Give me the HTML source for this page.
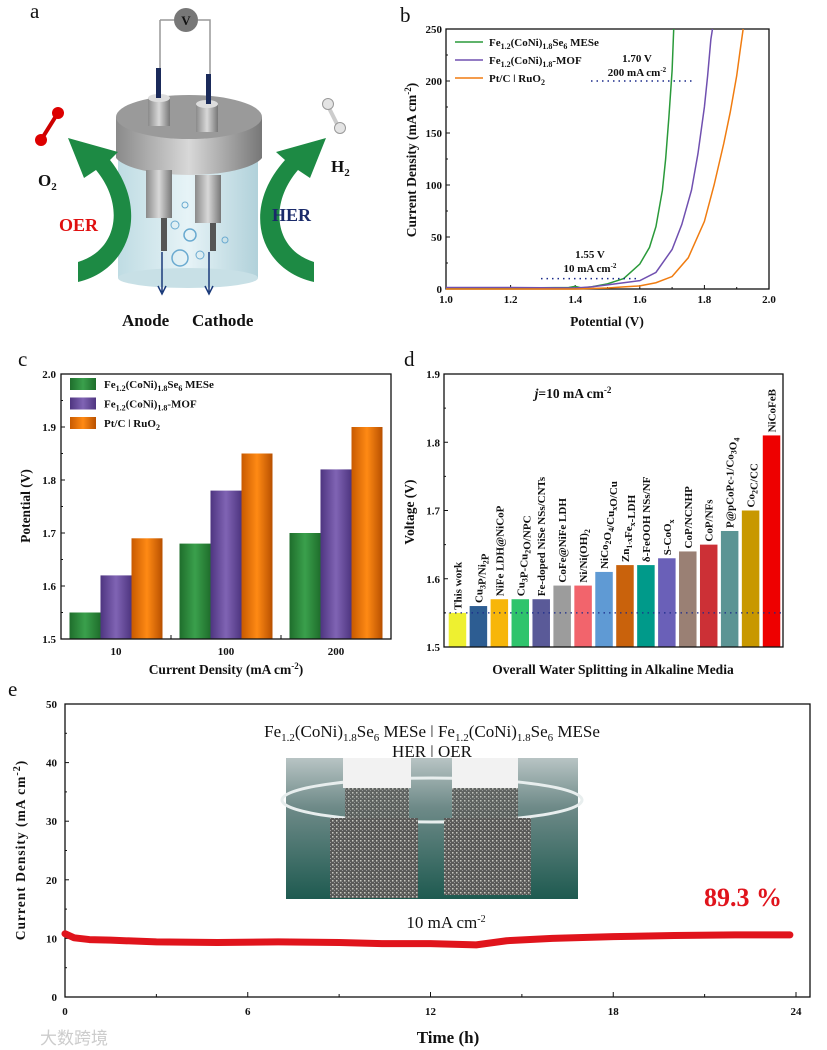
<!DOCTYPE html>
<html><head><meta charset="utf-8"><style>
html,body{margin:0;padding:0;background:#fff;}
svg{display:block;font-family:"Liberation Serif",serif;}
.t{font-weight:bold;font-size:11px;fill:#111;}
.lab{font-weight:bold;font-size:13.5px;fill:#111;}
.pl{font-size:21px;fill:#111;}
</style></head><body>
<svg id="fig" width="827" height="1050" viewBox="0 0 827 1050" xmlns="http://www.w3.org/2000/svg">
<defs>
<linearGradient id="gG" x1="0" x2="1"><stop offset="0" stop-color="#1f6e2c"/><stop offset=".5" stop-color="#3aa04c"/><stop offset="1" stop-color="#1f6e2c"/></linearGradient>
<linearGradient id="gP" x1="0" x2="1"><stop offset="0" stop-color="#4e3580"/><stop offset=".5" stop-color="#8064b4"/><stop offset="1" stop-color="#4e3580"/></linearGradient>
<linearGradient id="gO" x1="0" x2="1"><stop offset="0" stop-color="#c85a00"/><stop offset=".5" stop-color="#ff8a14"/><stop offset="1" stop-color="#b85000"/></linearGradient>
<linearGradient id="lid" x1="0" x2="1"><stop offset="0" stop-color="#8a8a8a"/><stop offset=".5" stop-color="#d8d8d8"/><stop offset="1" stop-color="#777"/></linearGradient>
<linearGradient id="water" x1="0" x2="1"><stop offset="0" stop-color="#b8d8e0"/><stop offset=".5" stop-color="#e4f2f6"/><stop offset="1" stop-color="#a8ccd6"/></linearGradient>
<linearGradient id="photo" x1="0" y1="0" x2="0" y2="1"><stop offset="0" stop-color="#b8c4c4"/><stop offset=".35" stop-color="#6e8a88"/><stop offset="1" stop-color="#1e5a50"/></linearGradient>
<pattern id="foam" width="4" height="4" patternUnits="userSpaceOnUse"><rect width="4" height="4" fill="#5a5a58"/><rect width="1.5" height="1.5" fill="#c8c8c0"/><rect x="2" y="2" width="1" height="1" fill="#999"/></pattern>
</defs>

<!-- Panel a -->
<g>
<text class="pl" x="30" y="18">a</text>
<path d="M160 20 H174 M198 20 H210 V80 M160 20 V70" stroke="#999" stroke-width="1.5" fill="none"/>
<circle cx="186" cy="20" r="12" fill="#777"/>
<text x="186" y="25" text-anchor="middle" font-weight="bold" font-size="13" fill="#111">V</text>
<rect x="118" y="150" width="140" height="128" fill="url(#water)" opacity=".9"/>
<ellipse cx="188" cy="278" rx="70" ry="10" fill="#c8e0e6"/>
<path d="M116 117 V158 A75 22 0 0 0 262 158 V117 Z" fill="url(#lid)"/>
<ellipse cx="189" cy="117" rx="73" ry="22" fill="#9a9a9a"/>
<rect x="148" y="98" width="22" height="28" fill="url(#lid)"/><ellipse cx="159" cy="98" rx="11" ry="4" fill="#ddd"/>
<rect x="196" y="104" width="22" height="28" fill="url(#lid)"/><ellipse cx="207" cy="104" rx="11" ry="4" fill="#ddd"/>
<rect x="156" y="68" width="5" height="30" fill="#1a2a5a"/><rect x="206" y="74" width="5" height="30" fill="#1a2a5a"/>
<rect x="146" y="170" width="26" height="48" fill="url(#lid)"/><rect x="195" y="175" width="26" height="48" fill="url(#lid)"/>
<rect x="161" y="218" width="6" height="33" fill="#555"/><rect x="210" y="223" width="6" height="28" fill="#555"/>
<circle cx="180" cy="258" r="8" fill="none" stroke="#6aaad0" stroke-width="1.5"/>
<circle cx="190" cy="235" r="6" fill="none" stroke="#6aaad0" stroke-width="1.5"/>
<circle cx="175" cy="225" r="4" fill="none" stroke="#6aaad0"/><circle cx="200" cy="255" r="4" fill="none" stroke="#6aaad0"/>
<circle cx="185" cy="205" r="3" fill="none" stroke="#6aaad0"/><circle cx="225" cy="240" r="3" fill="none" stroke="#6aaad0"/>
<path d="M162 252 V292 M158 286 L162 294 L166 286 M209 252 V292 M205 286 L209 294 L213 286" stroke="#1a3a7a" stroke-width="1.5" fill="none"/>
<path d="M78 282 C130 270 150 210 110 160 L118 152 L68 138 L84 178 L96 170 C125 205 118 250 78 262 Z" fill="#1d8a44"/>
<path d="M314 282 C260 270 240 210 285 160 L276 152 L326 138 L310 178 L298 170 C268 205 275 250 314 262 Z" fill="#1d8a44"/>
<line x1="41" y1="140" x2="56" y2="116" stroke="#c00" stroke-width="4"/><circle cx="41" cy="140" r="6" fill="#d00"/><circle cx="58" cy="113" r="6" fill="#d00"/>
<line x1="328" y1="106" x2="338" y2="126" stroke="#ccc" stroke-width="4"/><circle cx="328" cy="104" r="5.5" fill="#e4e4e4" stroke="#999"/><circle cx="340" cy="128" r="5.5" fill="#e4e4e4" stroke="#999"/>
<text x="38" y="186" font-weight="bold" font-size="17" fill="#111">O<tspan font-size="11" dy="4">2</tspan></text>
<text x="331" y="172" font-weight="bold" font-size="17" fill="#111">H<tspan font-size="11" dy="4">2</tspan></text>
<text x="59" y="231" font-weight="bold" font-size="18" fill="#e01010">OER</text>
<text x="272" y="221" font-weight="bold" font-size="18" fill="#1a2a6a">HER</text>
<text x="122" y="326" font-weight="bold" font-size="17" fill="#111">Anode</text>
<text x="192" y="326" font-weight="bold" font-size="17" fill="#111">Cathode</text>
</g>

<g id="pb"></g>
<g id="pc"></g>
<g id="pd"></g>
<g id="pe"></g>
</svg>
<script>
// ---- Panel b data ----
const bGreenV=[1.0,1.2,1.38,1.40,1.42,1.45,1.5,1.55,1.6,1.63,1.65,1.67,1.68,1.69,1.70,1.705];
const bGreenJ=[0.5,1,1.5,2.5,1,2,5,10,24,40,60,95,125,165,210,250];
const bPurpleV=[1.0,1.2,1.4,1.45,1.5,1.55,1.6,1.65,1.7,1.73,1.76,1.78,1.8,1.81,1.82,1.825];
const bPurpleJ=[1.5,1.5,1,2,4,6,8,16,38,62,95,130,175,205,240,250];
const bOrangeV=[1.0,1.4,1.5,1.55,1.6,1.65,1.7,1.75,1.8,1.83,1.86,1.88,1.9,1.91,1.92];
const bOrangeJ=[0,0,1,2,3,6,12,30,65,100,140,170,205,228,250];
const bXTicks=[1.0,1.2,1.4,1.6,1.8,2.0];
const bYTicks=[0,50,100,150,200,250];
// ---- Panel c data ----
const cCats=["10","100","200"];
const cMESe=[1.55,1.68,1.70];
const cMOF=[1.62,1.78,1.82];
const cPt=[1.69,1.85,1.90];
const cYTicks=[1.5,1.6,1.7,1.8,1.9,2.0];
// ---- Panel d data ----
const dNames=["This work","Cu<sub>3</sub>P/Ni<sub>2</sub>P","NiFe LDH@NiCoP","Cu<sub>3</sub>P-Cu<sub>2</sub>O/NPC","Fe-doped NiSe NSs/CNTs","CoFe@NiFe LDH","Ni/Ni(OH)<sub>2</sub>","NiCo<sub>2</sub>O<sub>4</sub>/Cu<sub>x</sub>O/Cu","Zn<sub>1-x</sub>Fe<sub>x</sub>-LDH","δ-FeOOH NSs/NF","S-CoO<sub>x</sub>","CoP/NCNHP","CoP/NFs","P@pCoPc-1/Co<sub>3</sub>O<sub>4</sub>","Co<sub>2</sub>C/CC","NiCoFeB"];
const dVals=[1.55,1.56,1.57,1.57,1.57,1.59,1.59,1.61,1.62,1.62,1.63,1.64,1.65,1.67,1.70,1.81];
const dColors=["#eef030","#2d5d92","#f7b60a","#2fc46c","#5a5a98","#9c9c9c","#f2646c","#5f9ad4","#c9620c","#009a8a","#6a60b8","#9a8074","#cc3036","#5c9494","#c89800","#ee0000"];
const dYTicks=[1.5,1.6,1.7,1.8,1.9];
// ---- Panel e data ----
const eT=[0,0.3,0.8,1.5,3,5,7,9,10.5,12,13.5,14.5,16,18,20,22,23.8];
const eJ=[10.8,10.1,9.8,9.7,9.4,9.3,9.4,9.3,9.1,9.1,8.9,9.6,10.0,10.3,10.5,10.6,10.6];
const eXTicks=[0,6,12,18,24];
const eYTicks=[0,10,20,30,40,50];

const NS="http://www.w3.org/2000/svg";
function mk(parent,tag,attrs,txt){const e=document.createElementNS(NS,tag);for(const k in attrs)e.setAttribute(k,attrs[k]);if(txt!==undefined)e.innerHTML=txt;parent.appendChild(e);return e;}
function lin(d0,d1,r0,r1){return v=>r0+(v-d0)/(d1-d0)*(r1-r0);}
function frame(g,x0,y0,x1,y1){const r=mk(g,'rect',{x:x0,y:y0,width:x1-x0,height:y1-y0,fill:'none',stroke:'#111','stroke-width':1.3});}

// Panel b
(function(){
const g=document.getElementById('pb');
const X0=446,X1=769,Y0=29,Y1=289;
const x=lin(1,2,X0,X1), y=lin(0,250,Y1,Y0);
mk(g,'text',{class:'pl',x:400,y:22},'b');
frame(g,X0,Y0,X1,Y1);
bXTicks.forEach((v,i)=>{mk(g,'line',{x1:x(v),x2:x(v),y1:Y1,y2:Y1-4,stroke:'#111'});const t=mk(g,'text',{class:'t',x:x(v),y:Y1+14,'text-anchor':'middle'},v.toFixed(1));if(i<5)mk(g,'line',{x1:x(v+0.1),x2:x(v+0.1),y1:Y1,y2:Y1-2,stroke:'#111'});});
bYTicks.forEach((v,i)=>{mk(g,'line',{x1:X0,x2:X0+4,y1:y(v),y2:y(v),stroke:'#111'});const t=mk(g,'text',{class:'t',x:X0-4,y:y(v)+4,'text-anchor':'end'},v);if(i<5)mk(g,'line',{x1:X0,x2:X0+2,y1:y(v+25),y2:y(v+25),stroke:'#111'});});
const series=[[bGreenV,bGreenJ,'#2a9a3a','green-curve'],[bPurpleV,bPurpleJ,'#7050b0','purple-curve'],[bOrangeV,bOrangeJ,'#f07c10','orange-curve']];
series.forEach(s=>{const p=mk(g,'polyline',{points:s[0].map((v,i)=>x(v)+','+y(s[1][i])).join(' '),fill:'none',stroke:s[2],'stroke-width':1.5});});
const leg=[['#2a9a3a','Fe<tspan font-size="8" dy="3">1.2</tspan><tspan dy="-3">(CoNi)</tspan><tspan font-size="8" dy="3">1.8</tspan><tspan dy="-3">Se</tspan><tspan font-size="8" dy="3">6</tspan><tspan dy="-3"> MESe</tspan>'],['#7050b0','Fe<tspan font-size="8" dy="3">1.2</tspan><tspan dy="-3">(CoNi)</tspan><tspan font-size="8" dy="3">1.8</tspan><tspan dy="-3">-MOF</tspan>'],['#f07c10','Pt/C ǀ RuO<tspan font-size="8" dy="3">2</tspan>']];
leg.forEach((l,i)=>{const yy=42+i*18;mk(g,'line',{x1:455,x2:483,y1:yy,y2:yy,stroke:l[0],'stroke-width':1.5});const t=mk(g,'text',{class:'t',x:489,y:yy+4},l[1]);});
mk(g,'line',{x1:591,x2:695,y1:y(200),y2:y(200),stroke:'#1a2a8a','stroke-width':1.5,'stroke-dasharray':'1.5 4'});
mk(g,'text',{class:'t',x:637,y:62,'text-anchor':'middle'},'1.70 V');
mk(g,'text',{class:'t',x:637,y:76,'text-anchor':'middle'},'200 mA cm<tspan font-size="7" dy="-4">-2</tspan>');
mk(g,'line',{x1:541,x2:640,y1:y(10),y2:y(10),stroke:'#1a2a8a','stroke-width':1.5,'stroke-dasharray':'1.5 4'});
mk(g,'text',{class:'t',x:590,y:258,'text-anchor':'middle'},'1.55 V');
mk(g,'text',{class:'t',x:590,y:272,'text-anchor':'middle'},'10 mA cm<tspan font-size="7" dy="-4">-2</tspan>');
const yt=mk(g,'text',{class:'lab',transform:'translate(416,160) rotate(-90)','text-anchor':'middle'},'Current Density (mA cm<tspan font-size="9" dy="-5">-2</tspan><tspan dy="5">)</tspan>');
const xt=mk(g,'text',{class:'lab',x:607,y:326,'text-anchor':'middle'},'Potential (V)');
})();

// Panel c
(function(){
const g=document.getElementById('pc');
const X0=61,X1=391,Y0=374,Y1=639;
const y=lin(1.5,2.0,Y1,Y0);
mk(g,'text',{class:'pl',x:18,y:366},'c');
const gw=(X1-X0)/3, bw=31;
cCats.forEach((c,i)=>{const cx=X0+gw*(i+0.5);
 [[cMESe,'url(#gG)','bar-mese'],[cMOF,'url(#gP)','bar-mof'],[cPt,'url(#gO)','bar-ptc']].forEach((s,k)=>{const r=mk(g,'rect',{x:cx-1.5*bw+k*bw,y:y(s[0][i]),width:bw,height:Y1-y(s[0][i]),fill:s[1]});});
 const t=mk(g,'text',{class:'t',x:cx,y:Y1+16,'text-anchor':'middle'},c);
 if(i>0)mk(g,'line',{x1:X0+gw*i,x2:X0+gw*i,y1:Y1,y2:Y1-4,stroke:'#111'});
});
frame(g,X0,Y0,X1,Y1);
cYTicks.forEach((v,i)=>{mk(g,'line',{x1:X0,x2:X0+4,y1:y(v),y2:y(v),stroke:'#111'});const t=mk(g,'text',{class:'t',x:X0-5,y:y(v)+4,'text-anchor':'end'},v.toFixed(1));if(i<5)mk(g,'line',{x1:X0,x2:X0+2,y1:y(v+0.05),y2:y(v+0.05),stroke:'#111'});});
const leg=[['url(#gG)','Fe<tspan font-size="8" dy="3">1.2</tspan><tspan dy="-3">(CoNi)</tspan><tspan font-size="8" dy="3">1.8</tspan><tspan dy="-3">Se</tspan><tspan font-size="8" dy="3">6</tspan><tspan dy="-3"> MESe</tspan>'],['url(#gP)','Fe<tspan font-size="8" dy="3">1.2</tspan><tspan dy="-3">(CoNi)</tspan><tspan font-size="8" dy="3">1.8</tspan><tspan dy="-3">-MOF</tspan>'],['url(#gO)','Pt/C ǀ RuO<tspan font-size="8" dy="3">2</tspan>']];
leg.forEach((l,i)=>{const yy=384+i*19.5;mk(g,'rect',{x:70,y:yy-6,width:26,height:12,fill:l[0]});const t=mk(g,'text',{class:'t',x:104,y:yy+4},l[1]);});
const yt=mk(g,'text',{class:'lab',transform:'translate(30,506) rotate(-90)','text-anchor':'middle'},'Potential (V)');
const xt=mk(g,'text',{class:'lab',x:226,y:674,'text-anchor':'middle'},'Current Density (mA cm<tspan font-size="9" dy="-5">-2</tspan><tspan dy="5">)</tspan>');
})();

// Panel d
(function(){
const g=document.getElementById('pd');
const X0=444,X1=783,Y0=374,Y1=647;
const y=lin(1.5,1.9,Y1,Y0);
mk(g,'text',{class:'pl',x:404,y:366},'d');
const sw=(X1-X0-4)/dVals.length, bw=17.5;
dVals.forEach((v,i)=>{const cx=X0+3+sw*(i+0.5);
 const r=mk(g,'rect',{x:cx-bw/2,y:y(v),width:bw,height:Y1-y(v),fill:dColors[i]});
 
 const lbl=dNames[i].replace(/<sub>(.*?)<\/sub>/g,'<tspan font-size="8" dy="3">$1</tspan><tspan dy="-3"></tspan>');
 const t=mk(g,'text',{class:'t',transform:'translate('+(cx+4)+','+(y(v)-3)+') rotate(-90)','font-size':'11.5'},lbl);
 
});
mk(g,'line',{x1:X0,x2:X1,y1:y(1.55),y2:y(1.55),stroke:'#1a2a8a','stroke-width':1.3,'stroke-dasharray':'1.5 4'});
frame(g,X0,Y0,X1,Y1);
dYTicks.forEach((v,i)=>{mk(g,'line',{x1:X0,x2:X0+4,y1:y(v),y2:y(v),stroke:'#111'});const t=mk(g,'text',{class:'t',x:X0-4,y:y(v)+4,'text-anchor':'end'},v.toFixed(1));if(i<4)mk(g,'line',{x1:X0,x2:X0+2,y1:y(v+0.05),y2:y(v+0.05),stroke:'#111'});});
mk(g,'text',{class:'lab',x:573,y:398,'text-anchor':'middle'},'<tspan font-style="italic">j</tspan>=10 mA cm<tspan font-size="9" dy="-5">-2</tspan>');
const yt=mk(g,'text',{class:'lab',transform:'translate(414,512) rotate(-90)','text-anchor':'middle'},'Voltage (V)');
const xt=mk(g,'text',{class:'lab',x:613,y:674,'text-anchor':'middle'},'Overall Water Splitting in Alkaline Media');
})();

// Panel e
(function(){
const g=document.getElementById('pe');
const X0=65,X1=810,Y0=704,Y1=997;
const x=lin(0,24,X0,X1-14), y=lin(0,50,Y1,Y0);
mk(g,'text',{class:'pl',x:8,y:696},'e');
// inset photo
const ph=mk(g,'g',{});
mk(ph,'rect',{x:286,y:758,width:292,height:141,fill:'url(#photo)'});
mk(ph,'ellipse',{cx:432,cy:800,rx:150,ry:22,fill:'none',stroke:'#e8eeee','stroke-width':3});
mk(ph,'rect',{x:343,y:758,width:68,height:30,fill:'#f2f2f2'});mk(ph,'rect',{x:452,y:758,width:66,height:30,fill:'#f2f2f2'});
mk(ph,'rect',{x:345,y:788,width:64,height:30,fill:'url(#foam)',opacity:.85});mk(ph,'rect',{x:452,y:788,width:66,height:30,fill:'url(#foam)',opacity:.85});
mk(ph,'rect',{x:330,y:818,width:88,height:80,fill:'url(#foam)'});mk(ph,'rect',{x:444,y:818,width:87,height:77,fill:'url(#foam)'});
frame(g,X0,Y0,X1,Y1);
eXTicks.forEach((v,i)=>{mk(g,'line',{x1:x(v),x2:x(v),y1:Y1,y2:Y1-5,stroke:'#111'});const t=mk(g,'text',{class:'t',x:x(v),y:Y1+18,'text-anchor':'middle','font-size':'12'},v);if(i<4)mk(g,'line',{x1:x(v+3),x2:x(v+3),y1:Y1,y2:Y1-3,stroke:'#111'});});
eYTicks.forEach((v,i)=>{mk(g,'line',{x1:X0,x2:X0+4,y1:y(v),y2:y(v),stroke:'#111'});const t=mk(g,'text',{class:'t',x:X0-8,y:y(v)+4,'text-anchor':'end','font-size':'12'},v);if(i<5)mk(g,'line',{x1:X0,x2:X0+2,y1:y(v+5),y2:y(v+5),stroke:'#111'});});
const p=mk(g,'polyline',{points:eT.map((t,i)=>x(t)+','+y(eJ[i])).join(' '),fill:'none',stroke:'#e0141c','stroke-width':7,'stroke-linecap':'round','stroke-linejoin':'round'});

mk(g,'text',{x:432,y:757,'text-anchor':'middle','font-size':'17',fill:'#111'},'HER ǀ OER');
mk(g,'text',{x:432,y:737,'text-anchor':'middle','font-size':'17',fill:'#111'},'Fe<tspan font-size="11" dy="4">1.2</tspan><tspan dy="-4">(CoNi)</tspan><tspan font-size="11" dy="4">1.8</tspan><tspan dy="-4">Se</tspan><tspan font-size="11" dy="4">6</tspan><tspan dy="-4"> MESe ǀ Fe</tspan><tspan font-size="11" dy="4">1.2</tspan><tspan dy="-4">(CoNi)</tspan><tspan font-size="11" dy="4">1.8</tspan><tspan dy="-4">Se</tspan><tspan font-size="11" dy="4">6</tspan><tspan dy="-4"> MESe</tspan>');
mk(g,'text',{x:446,y:928,'text-anchor':'middle','font-size':'17',fill:'#111'},'10 mA cm<tspan font-size="10" dy="-6">-2</tspan>');
const pc=mk(g,'text',{x:743,y:906,'text-anchor':'middle','font-size':'26','font-weight':'bold',fill:'#e0141c'},'89.3 %');
const yt=mk(g,'text',{class:'lab',transform:'translate(25,850) rotate(-90)','text-anchor':'middle','font-size':'15','letter-spacing':'1'},'Current Density (mA cm<tspan font-size="10" dy="-5">-2</tspan><tspan dy="5">)</tspan>');
const xt=mk(g,'text',{x:448,y:1043,'text-anchor':'middle','font-size':'17','font-weight':'bold',fill:'#111'},'Time (h)');
mk(g,'text',{x:40,y:1044,'font-size':'17',fill:'#ccc','font-family':'"Liberation Sans","Noto Sans CJK SC",sans-serif'},'大数跨境');
})();
</script>
</body></html>
